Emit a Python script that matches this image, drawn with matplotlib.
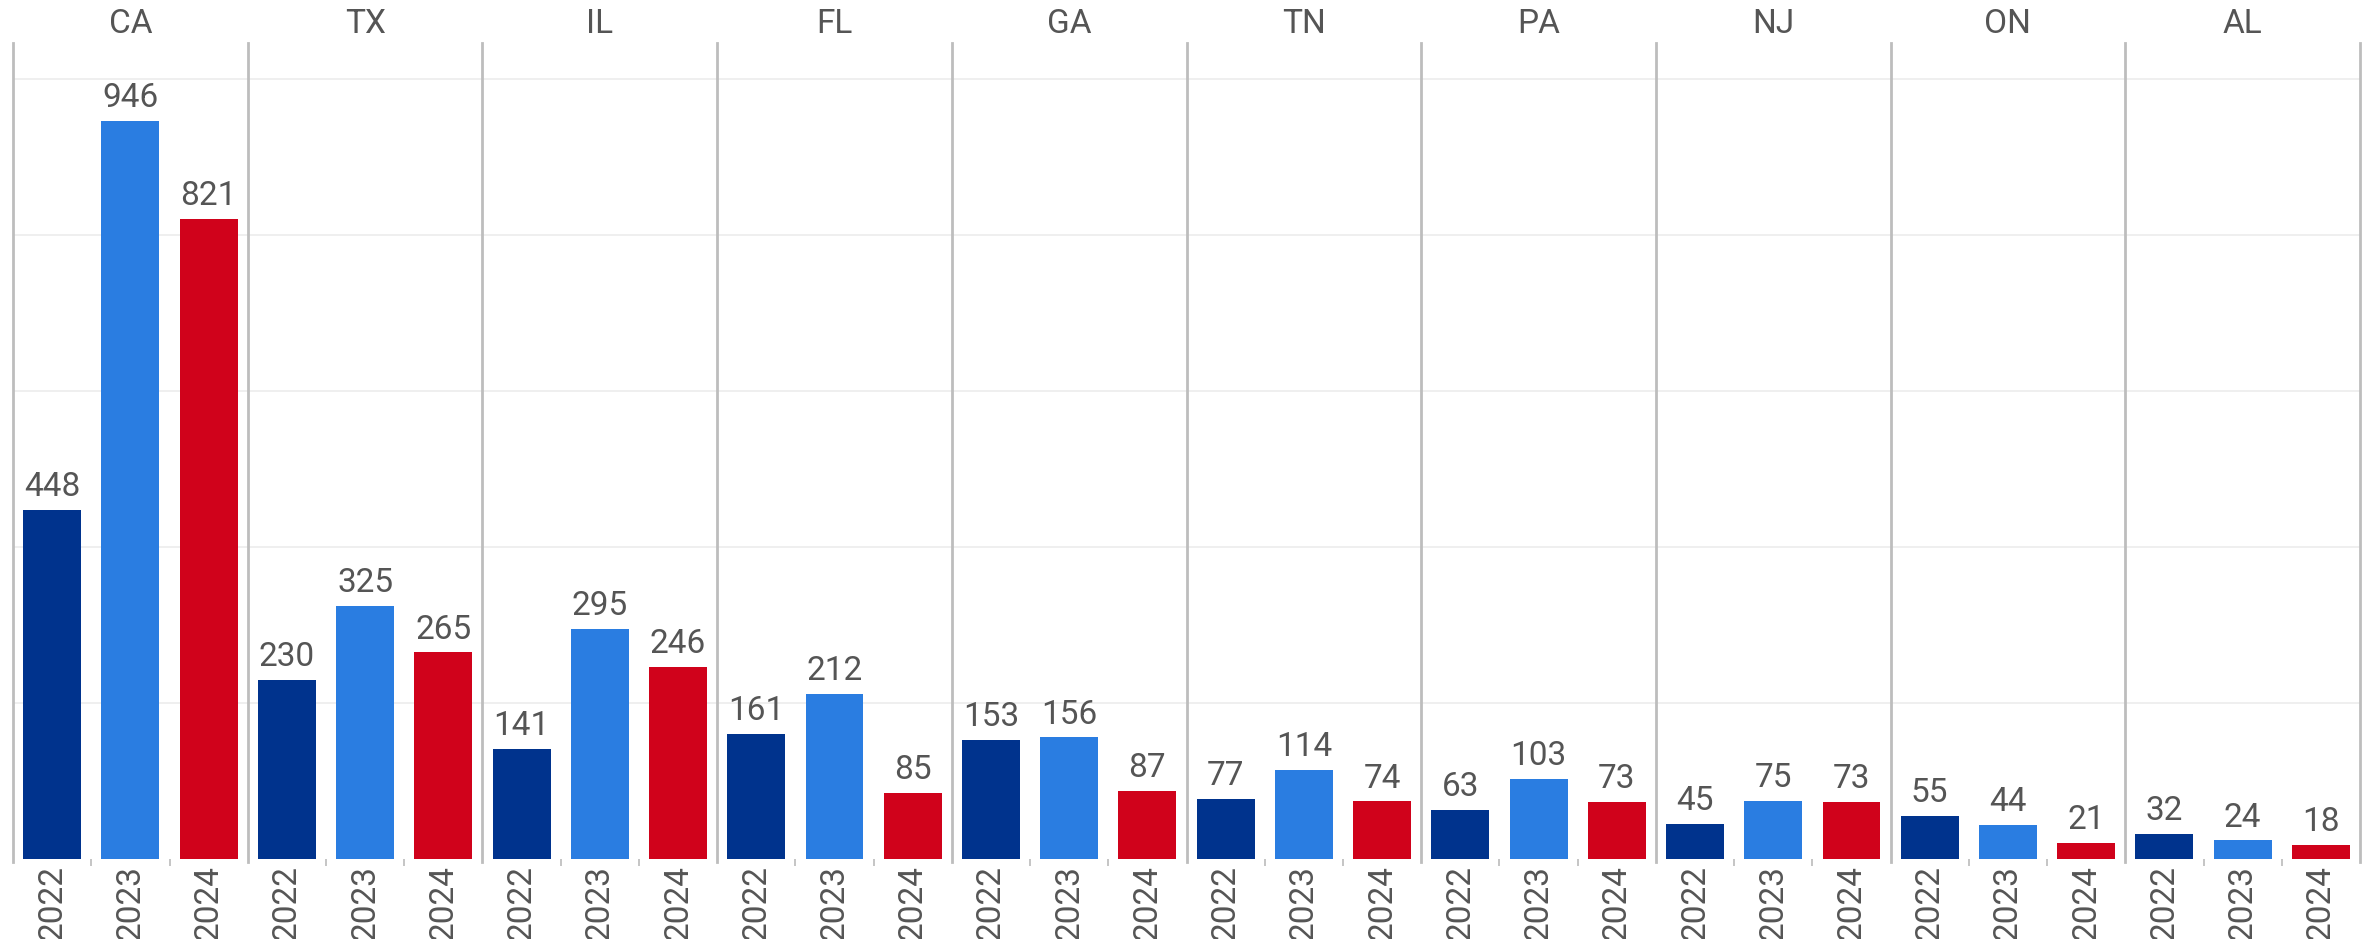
import matplotlib.pyplot as plt
import numpy as np

plt.rcParams['font.family'] = ['Roboto', 'DejaVu Sans']

# data
states = ['CA', 'TX', 'IL', 'FL', 'GA', 'TN', 'PA', 'NJ', 'ON', 'AL']
years = ['2022', '2023', '2024']
v2022 = [448, 230, 141, 161, 153, 77, 63, 45, 55, 32]
v2023 = [946, 325, 295, 212, 156, 114, 103, 75, 44, 24]
v2024 = [821, 265, 246, 85, 87, 74, 73, 73, 21, 18]
colors = ['#00338d', '#2a7de1', '#d0021b']

fig = plt.figure(figsize=(23.79, 9.39), dpi=100)
ax = fig.add_axes([0.0055, 0.085, 0.9865, 0.869])

txt = '#555555'
fs = 24
n = len(states)
for j, vals in enumerate([v2022, v2023, v2024]):
    xs = np.arange(n) * 3 + j
    bars = ax.bar(xs, vals, width=0.74, color=colors[j], zorder=3)
    for b, v in zip(bars, vals):
        ax.annotate(str(v), (b.get_x() + b.get_width() / 2, v),
                    xytext=(0, 5), textcoords='offset points',
                    ha='center', va='bottom', fontsize=fs, color=txt)

ax.set_xlim(-0.5, n * 3 - 0.5)
ax.set_ylim(0, 1046)
ax.set_yticks([200, 400, 600, 800, 1000])
ax.yaxis.grid(True, color='#ececec', linewidth=1.2, zorder=0)
ax.tick_params(axis='y', left=False, labelleft=False)

# group separators
for g in range(n + 1):
    ax.axvline(g * 3 - 0.5, ymin=-0.004, ymax=1, color='#bdbdbd',
               linewidth=2, zorder=2, clip_on=False)

# year tick labels
ax.set_xticks(np.arange(n * 3))
ax.set_xticklabels(years * n, rotation=90, fontsize=fs, color=txt)
ax.tick_params(axis='x', length=0, pad=4)
minor = [g * 3 + k + 0.5 for g in range(n) for k in range(2)]
ax.set_xticks(minor, minor=True)
ax.tick_params(axis='x', which='minor', length=5, width=1.2, color='#bbbbbb')

# state headers
for g, s in enumerate(states):
    ax.text(g * 3 + 1, 1.012, s, transform=ax.get_xaxis_transform(),
            ha='center', va='baseline', fontsize=fs, color=txt)

for sp in ax.spines.values():
    sp.set_visible(False)

fig.savefig('out.png', dpi=100)
